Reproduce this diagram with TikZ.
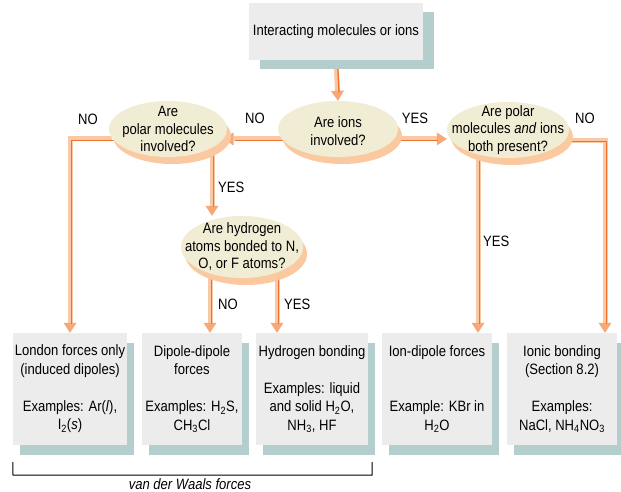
\documentclass[tikz,border=0pt]{standalone}
\usepackage{fontspec}
\setmainfont{Liberation Sans}[FakeStretch=0.87]
\usetikzlibrary{arrows.meta,shapes.geometric,shadows,backgrounds}
\definecolor{boxfill}{RGB}{236,236,236}
\definecolor{boxshadow}{RGB}{180,206,206}
\definecolor{ellfill}{RGB}{241,236,212}
\definecolor{ellshadow}{RGB}{250,201,160}
\definecolor{peach}{RGB}{250,200,164}
\definecolor{orangeC}{RGB}{238,115,45}
\definecolor{headC}{RGB}{247,168,118}
\begin{document}
\begin{tikzpicture}[x=1pt,y=-1pt,
  font=\fontsize{15}{18.5}\selectfont,
  topbox/.style={fill=boxfill, minimum width=174pt, minimum height=57pt, inner sep=0pt,
    drop shadow={shadow xshift=11pt, shadow yshift=-9pt, fill=boxshadow, opacity=1}},
  resultbox/.style={fill=boxfill, minimum height=112pt, inner sep=0pt, align=center,
    drop shadow={shadow xshift=7pt, shadow yshift=-10pt, fill=boxshadow, opacity=1}},
  decision/.style={ellipse, fill=ellfill, inner sep=0pt,
    drop shadow={shadow xshift=4pt, shadow yshift=-7pt, fill=ellshadow, opacity=1}},
  qtext/.style={align=center, font=\fontsize{15}{17.5}\selectfont},
  lbl/.style={font=\fontsize{15}{15}\selectfont, inner sep=0pt},
  band/.style={draw=peach, line width=5pt, -{Triangle[width=13pt,length=10pt,line width=0pt,color=headC]}},
  edgeln/.style={draw=orangeC, line width=1.3pt, shorten >=10pt, transform canvas={xshift=1.5pt,yshift=-1.5pt}}
]
\useasboundingbox (0,0) rectangle (621,492);
\clip (0,0) rectangle (621,492);

% nodes
\node[topbox] (top) at (336,31.5) {Interacting molecules or ions};
\node[decision, minimum width=120pt, minimum height=56pt,
  label={[qtext, yshift=-2pt]center:{Are ions\\involved?}}] (ions) at (338,129) {};
\node[decision, minimum width=118pt, minimum height=56pt,
  label={[qtext]center:{Are\\polar molecules\\involved?}}] (polar) at (168,129) {};
\node[decision, minimum width=122pt, minimum height=56pt,
  label={[qtext]center:{Are polar\\molecules \textit{and} ions\\both present?}}] (both) at (508,130) {};
\node[decision, minimum width=122pt, minimum height=62pt,
  label={[qtext]center:{Are hydrogen\\atoms bonded to N,\\O, or F atoms?}}] (hyd) at (242,247) {};

\node[resultbox, minimum width=114pt] (london) at (70,389)
  {London forces only\\(induced dipoles)\\\mbox{}\\Examples: Ar(\textit{l}),\\I\textsubscript{2}(\textit{s})};
\node[resultbox, minimum width=100pt] (dipole) at (192,389)
  {Dipole-dipole\\forces\\\mbox{}\\Examples: H\textsubscript{2}S,\\CH\textsubscript{3}Cl};
\node[resultbox, minimum width=112pt] (hbond) at (312,389)
  {Hydrogen bonding\\\mbox{}\\Examples: liquid\\and solid H\textsubscript{2}O,\\NH\textsubscript{3}, HF};
\node[resultbox, minimum width=110pt] (iondip) at (437,389)
  {Ion-dipole forces\\\mbox{}\\\mbox{}\\Example: KBr in\\H\textsubscript{2}O};
\node[resultbox, minimum width=110pt] (ionic) at (562,389)
  {Ionic bonding\\(Section 8.2)\\\mbox{}\\Examples:\\NaCl, NH\textsubscript{4}NO\textsubscript{3}};

% routing coordinates
\coordinate (xa) at (212,0);
\coordinate (xno) at (210,0);
\coordinate (xyes) at (277,0);
\coordinate (xid) at (478,0);
\coordinate (xic) at (605,0);

% connectors (behind the nodes)
\begin{pgfonlayer}{background}
\fill[white] (0,0) rectangle (621,492);
\foreach \p in {band,edgeln}{
  \draw[\p] (top.south) -- (ions.north);
  \draw[\p] (ions.190) -- (ions.190 -| polar.350);
  \draw[\p] (polar.190) -| (london.north);
  \draw[\p] (polar.center -| xa) -- (hyd.north -| xa);
  \draw[\p] (hyd.center -| xno) -- (dipole.north -| xno);
  \draw[\p] (hyd.center -| xyes) -- (hbond.north -| xyes);
  \draw[\p] (ions.350) -- (ions.350 -| both.west);
  \draw[\p] (both.center -| xid) -- (iondip.north -| xid);
  \draw[\p] (both.350) -| (ionic.north -| xic);
}
\end{pgfonlayer}

% labels
\node[lbl] (l1) at (88,119) {NO};
\node[lbl] (l2) at (255,118) {NO};
\node[lbl] (l3) at (415,118) {YES};
\node[lbl] (l4) at (585,118) {NO};
\node[lbl, anchor=west] (l5) at (218,187) {YES};
\node[lbl, anchor=west] (l6) at (218,304) {NO};
\node[lbl, anchor=west] (l7) at (284,304) {YES};
\node[lbl, anchor=west] (l8) at (483,241) {YES};

% van der Waals bracket
\draw[black, line width=1pt] (london.south west |- 0,462) -- (13,475) -- (372,475) -- (372,462);
\node[font=\fontsize{15}{15}\selectfont\itshape, inner sep=0pt] (vdw) at (190,484) {van der Waals forces};
\end{tikzpicture}
\end{document}
